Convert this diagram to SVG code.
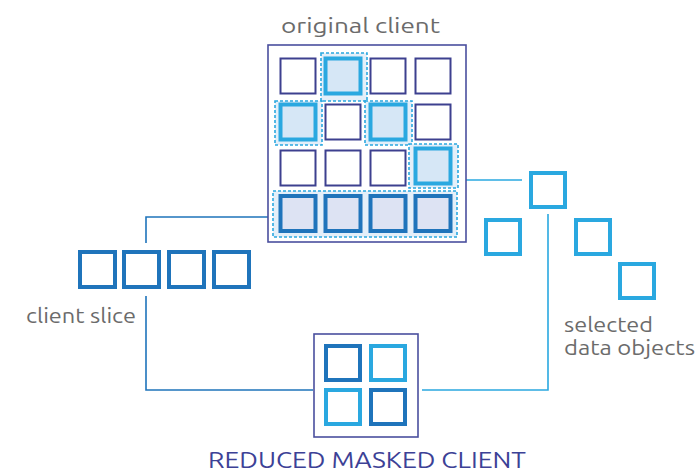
<svg xmlns="http://www.w3.org/2000/svg" width="697" height="471" viewBox="0 0 697 471">
<style>
.frame{fill:#fff;stroke:#4a4f9e;stroke-width:1.6}
.cell{fill:#fff;stroke:#3d408f;stroke-width:2}
.sel{fill:#d6e7f6;stroke:#2aa8e0;stroke-width:4}
.slice{fill:#dde3f3;stroke:#1f74bb;stroke-width:4}
.dash{fill:#e4eff9;stroke:#2aa8e0;stroke-width:1.6;stroke-dasharray:3 2}
.obj{fill:#fff;stroke:#2aa8e0;stroke-width:4}
.dk{fill:#fff;stroke:#1f74bb;stroke-width:4}
.lt{fill:none;stroke:#2aa8e0;stroke-width:1.6}
.ld{fill:none;stroke:#1f74bb;stroke-width:1.6}
.lbl{font-family:Ubuntu,"Noto Sans","Open Sans",sans-serif;fill:#6b6b6b;font-size:21px}
.title{font-family:Ubuntu,"Noto Sans","Open Sans",sans-serif;fill:#3c4196;font-size:23px}
</style>
<g id="connectors">
<polyline class="lt" points="458,180 522,180"/>
<polyline class="ld" points="273,217 146,217 146,243"/>
<polyline class="ld" points="146,296 146,390 313,390"/>
<polyline class="lt" points="548,214 548,390 422,390"/>
</g>
<g id="original-client">
<rect class="frame" x="268" y="45" width="198" height="197"/>
<rect class="dash" x="321" y="53" width="46" height="48"/>
<rect class="dash" x="275" y="101" width="47" height="44"/>
<rect class="dash" x="365" y="101" width="47" height="44"/>
<rect class="dash" x="409" y="144" width="49" height="44"/>
<rect class="dash" x="273" y="191" width="184" height="46"/>
<rect class="cell" x="280.5" y="58.5" width="35" height="35"/>
<rect class="sel" x="325.5" y="58.5" width="35" height="35"/>
<rect class="cell" x="370.5" y="58.5" width="35" height="35"/>
<rect class="cell" x="415.5" y="58.5" width="35" height="35"/>
<rect class="sel" x="280.5" y="104.5" width="35" height="35"/>
<rect class="cell" x="325.5" y="104.5" width="35" height="35"/>
<rect class="sel" x="370.5" y="104.5" width="35" height="35"/>
<rect class="cell" x="415.5" y="104.5" width="35" height="35"/>
<rect class="cell" x="280.5" y="150.5" width="35" height="35"/>
<rect class="cell" x="325.5" y="150.5" width="35" height="35"/>
<rect class="cell" x="370.5" y="150.5" width="35" height="35"/>
<rect class="sel" x="415.5" y="148.5" width="35" height="35"/>
<rect class="slice" x="280.5" y="196" width="35" height="35"/>
<rect class="slice" x="325.5" y="196" width="35" height="35"/>
<rect class="slice" x="370.5" y="196" width="35" height="35"/>
<rect class="slice" x="415.5" y="196" width="35" height="35"/>
<text class="lbl" x="281" y="33" textLength="159" lengthAdjust="spacingAndGlyphs">original client</text>
</g>
<g id="client-slice">
<rect class="dk" x="80" y="252" width="35" height="35"/>
<rect class="dk" x="124" y="252" width="35" height="35"/>
<rect class="dk" x="169" y="252" width="35" height="35"/>
<rect class="dk" x="214" y="252" width="35" height="35"/>
<text class="lbl" x="26" y="323" textLength="110" lengthAdjust="spacingAndGlyphs">client slice</text>
</g>
<g id="selected-data-objects">
<rect class="obj" x="531" y="173" width="34" height="34"/>
<rect class="obj" x="486" y="220" width="34" height="34"/>
<rect class="obj" x="576" y="220" width="34" height="34"/>
<rect class="obj" x="620" y="264" width="34" height="34"/>
<text class="lbl" x="564" y="332" textLength="89" lengthAdjust="spacingAndGlyphs">selected</text>
<text class="lbl" x="564" y="355" textLength="131" lengthAdjust="spacingAndGlyphs">data objects</text>
</g>
<g id="reduced-masked-client">
<rect class="frame" x="314" y="334" width="104" height="103"/>
<rect class="dk" x="326" y="346" width="34" height="34"/>
<rect class="obj" x="371" y="346" width="34" height="34"/>
<rect class="obj" x="326" y="390" width="34" height="34"/>
<rect class="dk" x="371" y="390" width="34" height="34"/>
<text class="title" x="208" y="468" textLength="318" lengthAdjust="spacingAndGlyphs">REDUCED MASKED CLIENT</text>
</g>
</svg>
